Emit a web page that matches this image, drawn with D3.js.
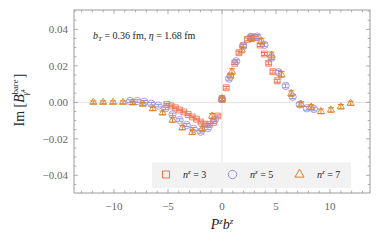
<!DOCTYPE html>
<html><head><meta charset="utf-8">
<script src="https://cdn.jsdelivr.net/npm/d3@7"></script>
<style>body{margin:0;background:#fff}svg{display:block}</style>
</head><body>
<svg id="c" width="382" height="243"></svg>
<script>
// ---- data ----
const n3x = [-5.11,-4.71,-4.32,-3.93,-3.53,-3.14,-2.75,-2.36,-1.96,-1.57,-1.18,-0.79,-0.39,0,0.39,0.79,1.18,1.57,1.96,2.36,2.75,3.14,3.53,3.93,4.32,4.71,5.11];
const n3y = [-0.0012,-0.002,-0.003,-0.0042,-0.0053,-0.0067,-0.008,-0.0092,-0.0108,-0.012,-0.0122,-0.011,-0.0075,0.0015,0.008,0.0145,0.0214,0.0272,0.031,0.0345,0.036,0.0355,0.0314,0.0265,0.0214,0.0168,0.0118];
const n3e = [0.0005,0.0005,0.0005,0.0005,0.0005,0.0005,0.0005,0.0005,0.0006,0.0006,0.0006,0.0006,0.0006,0.0007,0.0007,0.0007,0.0007,0.0008,0.0008,0.0008,0.0008,0.0008,0.0008,0.0008,0.0008,0.0008,0.0008];
const n5x = [-8.51,-7.85,-7.20,-6.54,-5.89,-5.24,-4.58,-3.93,-3.27,-2.62,-1.96,-1.31,-0.65,0,0.65,1.31,1.96,2.62,3.27,3.93,4.58,5.24,5.89,6.54,7.20,7.85,8.51];
const n5y = [0.0007,0.0007,0.0003,-0.0008,-0.0018,-0.0033,-0.0066,-0.0097,-0.0124,-0.0146,-0.0161,-0.0142,-0.0095,0.0018,0.013,0.0225,0.031,0.0355,0.036,0.0315,0.0245,0.0165,0.009,0.003,-0.0012,-0.0033,-0.0037];
const n5e = [0.0007,0.0007,0.0007,0.0007,0.0007,0.0007,0.0007,0.0007,0.0008,0.0008,0.0008,0.0008,0.0008,0.0009,0.0009,0.0009,0.0009,0.001,0.001,0.001,0.001,0.001,0.001,0.001,0.001,0.001,0.001];
const n7x = [-11.91,-11.00,-10.08,-9.16,-8.25,-7.33,-6.41,-5.50,-4.58,-3.67,-2.75,-1.83,-0.92,0,0.92,1.83,2.75,3.67,4.58,5.50,6.41,7.33,8.25,9.16,10.08,11.00,11.91];
const n7y = [0,0,0,0,-0.0003,-0.001,-0.0035,-0.0058,-0.0097,-0.0139,-0.0164,-0.0146,-0.0075,0.002,0.0168,0.0287,0.035,0.0335,0.0259,0.0153,0.0048,-0.0011,-0.0026,-0.005,-0.0042,-0.0024,-0.0005];
const n7e = [0.0008,0.0008,0.0008,0.0008,0.0009,0.0009,0.001,0.001,0.0012,0.0012,0.0013,0.0013,0.0014,0.0016,0.0016,0.0016,0.0016,0.0016,0.0016,0.0016,0.0015,0.0014,0.0013,0.0013,0.0012,0.0012,0.0011];
const xTicks = [-10,-5,0,5,10];
const xTickLabels = ["\u221210","\u22125","0","5","10"];
const yTicks = [-0.04,-0.02,0,0.02,0.04];
const yTickLabels = ["\u22120.04","\u22120.02","0.00","0.02","0.04"];
const seriesNames = ["3","5","7"];
const colors = ["#f0704e","#9b8fd4","#d9822b"];

// ---- chart ----
const svg = d3.select("#c");
const L=74,R=370,T=10,B=193;
const x = d3.scaleLinear().domain([-13.7,13.7]).range([L,R]);
const y = d3.scaleLinear().domain([-0.0497,0.0506]).range([B,T]);
const serif = "'Liberation Serif','DejaVu Serif',serif";
const frameCol = "#9a9a9a", labCol = "#666";

svg.append("line").attr("x1",x(0)).attr("x2",x(0)).attr("y1",T).attr("y2",B).attr("stroke","#e0e0e0").attr("stroke-width",1);
svg.append("line").attr("x1",L).attr("x2",R).attr("y1",y(0)).attr("y2",y(0)).attr("stroke","#e0e0e0").attr("stroke-width",1);

const xMinor = d3.range(-13,14).filter(v=>v%5!==0);
const yMinor = d3.range(-0.045,0.0501,0.005).map(v=>+v.toFixed(3)).filter(v=>Math.abs(Math.round(v*1000))%20!==0);
function tickSet(g, vals, len, orient){
  vals.forEach(v=>{
    if(orient==="b") g.append("line").attr("x1",x(v)).attr("x2",x(v)).attr("y1",B).attr("y2",B-len);
    if(orient==="t") g.append("line").attr("x1",x(v)).attr("x2",x(v)).attr("y1",T).attr("y2",T+len);
    if(orient==="l") g.append("line").attr("y1",y(v)).attr("y2",y(v)).attr("x1",L).attr("x2",L+len);
    if(orient==="r") g.append("line").attr("y1",y(v)).attr("y2",y(v)).attr("x1",R).attr("x2",R-len);
  });
}
const tg = svg.append("g").attr("stroke",frameCol).attr("stroke-width",0.8);
tickSet(tg,xTicks,4,"b");tickSet(tg,xMinor,2.3,"b");
tickSet(tg,xTicks,4,"t");tickSet(tg,xMinor,2.3,"t");
tickSet(tg,yTicks,4,"l");tickSet(tg,yMinor,2.3,"l");
tickSet(tg,yTicks,4,"r");tickSet(tg,yMinor,2.3,"r");
svg.append("rect").attr("x",L).attr("y",T).attr("width",R-L).attr("height",B-T).attr("fill","none").attr("stroke",frameCol).attr("stroke-width",1);

svg.append("g").selectAll("text").data(xTicks).join("text")
  .attr("x",d=>x(d)).attr("y",B+17).attr("text-anchor","middle")
  .attr("font-family",serif).attr("font-size",11).attr("fill",labCol)
  .text((d,i)=>xTickLabels[i]);
svg.append("g").selectAll("text").data(yTicks).join("text")
  .attr("x",L-6).attr("y",d=>y(d)+3.8).attr("text-anchor","end")
  .attr("font-family",serif).attr("font-size",11).attr("fill",labCol)
  .text((d,i)=>yTickLabels[i]);

const sym = [d3.symbolSquare, d3.symbolCircle, d3.symbolTriangle];
const sizes = [34, 42, 22];
const sets = [[n3x,n3y,n3e],[n5x,n5y,n5e],[n7x,n7y,n7e]];
sets.forEach((s,k)=>{
  const g = svg.append("g");
  const data = s[0].map((v,i)=>({x:v,y:s[1][i],e:s[2][i]}));
  const eg = g.append("g").attr("stroke",colors[k]).attr("stroke-width",1);
  data.forEach(d=>{
    eg.append("line").attr("x1",x(d.x)).attr("x2",x(d.x)).attr("y1",y(d.y-d.e)).attr("y2",y(d.y+d.e));
    eg.append("line").attr("x1",x(d.x)-3).attr("x2",x(d.x)+3).attr("y1",y(d.y-d.e)).attr("y2",y(d.y-d.e));
    eg.append("line").attr("x1",x(d.x)-3).attr("x2",x(d.x)+3).attr("y1",y(d.y+d.e)).attr("y2",y(d.y+d.e));
  });
  g.selectAll("path").data(data).join("path")
    .attr("transform",d=>`translate(${x(d.x)},${y(d.y)})`)
    .attr("d",d3.symbol().type(sym[k]).size(sizes[k]))
    .attr("fill","none").attr("stroke",colors[k]).attr("stroke-width",1).attr("stroke-opacity",0.85);
});

const ann = svg.append("text").attr("x",93).attr("y",39).attr("font-family",serif).attr("font-size",10).attr("fill","#222");
ann.append("tspan").attr("font-style","italic").text("b");
ann.append("tspan").attr("font-style","italic").attr("font-size",7).attr("dy",2).text("T");
ann.append("tspan").attr("dy",-2).text(" = 0.36 fm,  ");
ann.append("tspan").attr("font-style","italic").text("\u03b7");
ann.append("tspan").text(" = 1.68 fm");

const lg = svg.append("g");
lg.append("rect").attr("x",152).attr("y",162.5).attr("width",199).attr("height",25.5).attr("fill","#f2f2f2");
const lx = [166,232.5,299.5], tx = [183,250,317];
seriesNames.forEach((n,k)=>{
  lg.append("path").attr("transform",`translate(${lx[k]},${174.5})`)
    .attr("d",d3.symbol().type(sym[k]).size(sizes[k]+14))
    .attr("fill","none").attr("stroke",colors[k]).attr("stroke-width",1);
  const t = lg.append("text").attr("x",tx[k]).attr("y",178).attr("font-family",serif).attr("font-size",10).attr("fill","#222");
  t.append("tspan").attr("font-style","italic").text("n");
  t.append("tspan").attr("font-style","italic").attr("font-size",7).attr("dy",-4).text("z");
  t.append("tspan").attr("dy",4).text(" = "+n);
});

const xl = svg.append("text").attr("x",222).attr("y",229).attr("text-anchor","middle").attr("font-family",serif).attr("font-size",14).attr("fill","#222");
xl.append("tspan").attr("font-style","italic").text("P");
xl.append("tspan").attr("font-style","italic").attr("font-size",9).attr("dy",-5).text("z");
xl.append("tspan").attr("font-style","italic").attr("dy",5).text("b");
xl.append("tspan").attr("font-style","italic").attr("font-size",9).attr("dy",-5).text("z");

const yl = svg.append("text").attr("transform","translate(24,100) rotate(-90)").attr("text-anchor","middle").attr("font-family",serif).attr("font-size",14).attr("fill","#222");
yl.append("tspan").text("Im [");
yl.append("tspan").attr("font-style","italic").text("B");
yl.append("tspan").attr("font-size",8.5).attr("dy",-6).text("bare");
yl.append("tspan").attr("font-style","italic").attr("font-size",8.5).attr("dx",-16).attr("dy",10).text("\u03b3");
yl.append("tspan").attr("font-size",6).attr("dy",-3).text("4");
yl.append("tspan").attr("dx",11).attr("dy",-1).text("]");
</script>
</body></html>
